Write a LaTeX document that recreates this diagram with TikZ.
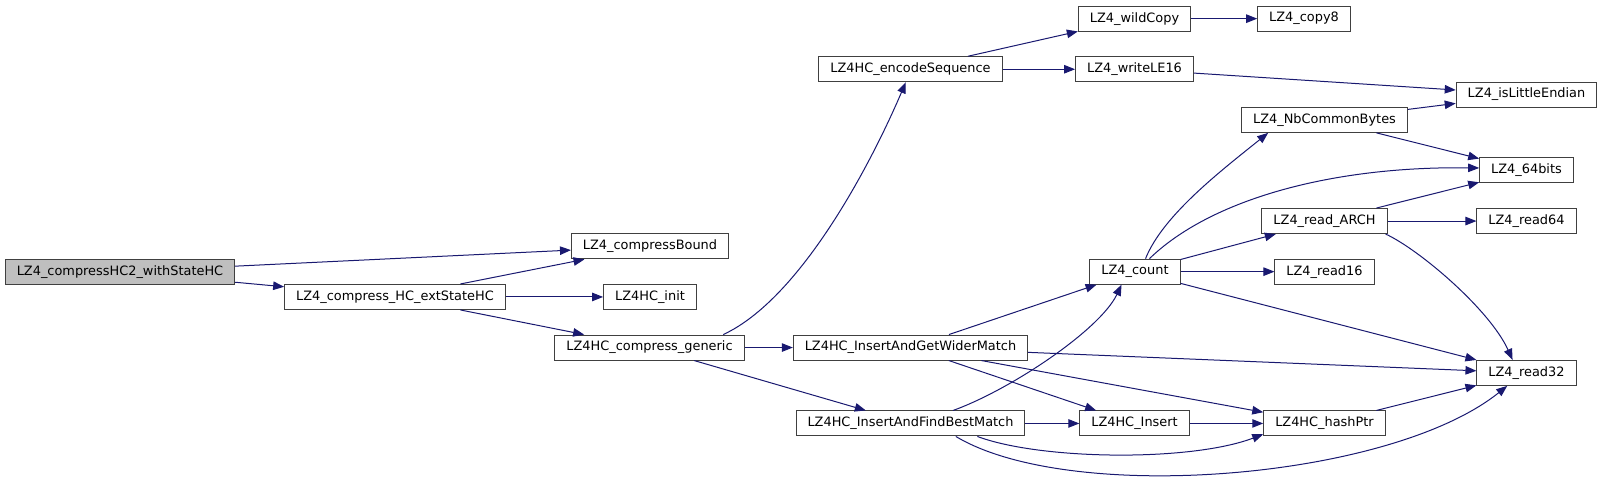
\documentclass[tikz,border=0pt]{standalone}
\usepackage{fontspec}
\setmainfont{DejaVu Sans}
\usetikzlibrary{arrows.meta}
\definecolor{edgeblue}{HTML}{191970}
\definecolor{boxgray}{HTML}{404040}
\begin{document}
\begin{tikzpicture}[x=1pt,y=-1pt,
	fn/.style={draw=boxgray,line width=1pt,fill=white,inner xsep=11.5pt,inner ysep=0pt,
		minimum height=25pt,font=\fontsize{12.9pt}{15pt}\selectfont},
	cur/.style={fn,fill=gray!50},
	call/.style={draw=edgeblue,line width=1pt,-{Triangle[length=11pt,width=8.5pt]}}]
		\useasboundingbox (0,0) rectangle (1603,479);
		% column 0 and 1
		\node[cur] (ws) at (120,271.65) {LZ4\_compressHC2\_withStateHC};
		\node[fn] (ext) at (395,296.95) {LZ4\_compress\_HC\_extStateHC};
		% column 2
		\node[fn] (cb) at (650,246.35) {LZ4\_compressBound};
		\node[fn] (init) at (650,296.95) {LZ4HC\_init};
		\node[fn] (gen) at (649.5,347.55) {LZ4HC\_compress\_generic};
		% column 3
		\node[fn] (enc) at (910.5,69.25) {LZ4HC\_encodeSequence};
		\node[fn] (wider) at (910.5,347.55) {LZ4HC\_InsertAndGetWiderMatch};
		\node[fn] (best) at (910.5,423.45) {LZ4HC\_InsertAndFindBestMatch};
		% column 4
		\node[fn] (wild) at (1134.5,18.65) {LZ4\_wildCopy};
		\node[fn] (wle) at (1134.5,69.25) {LZ4\_writeLE16};
		\node[fn] (count) at (1135,271.65) {LZ4\_count};
		\node[fn] (ins) at (1134.5,423.45) {LZ4HC\_Insert};
		% column 5
		\node[fn] (copy8) at (1304,18.65) {LZ4\_copy8};
		\node[fn] (nbc) at (1324.5,119.85) {LZ4\_NbCommonBytes};
		\node[fn] (rarch) at (1324.5,221.05) {LZ4\_read\_ARCH};
		\node[fn] (r16) at (1324.5,271.65) {LZ4\_read16};
		\node[fn] (hash) at (1324.5,423.45) {LZ4HC\_hashPtr};
		% column 6
		\node[fn] (isle) at (1526.5,94.55) {LZ4\_isLittleEndian};
		\node[fn] (b64) at (1526.5,170.45) {LZ4\_64bits};
		\node[fn] (r64) at (1526.5,221.05) {LZ4\_read64};
		\node[fn] (r32) at (1526.5,372.85) {LZ4\_read32};
		% calls
		\draw[call] (ws) -- (cb);
		\draw[call] (ws) -- (ext);
		\draw[call] (ext) -- (cb);
		\draw[call] (ext) -- (init);
		\draw[call] (ext) -- (gen);
		\draw[call] (gen.10) .. controls (800,299) and (870,166) .. (enc.250);
		\draw[call] (gen) -- (wider);
		\draw[call] (gen) -- (best);
		\draw[call] (enc) -- (wild);
		\draw[call] (enc) -- (wle);
		\draw[call] (wild) -- (copy8);
		\draw[call] (wle) -- (isle);
		\draw[call] (nbc) -- (isle);
		\draw[call] (nbc) -- (b64);
		\draw[call] (count.51) .. controls (1163,215) and (1222,170) .. (nbc.193);
		\draw[call] (count.42) .. controls (1210,200) and (1330,166) .. (b64.177);
		\draw[call] (count) -- (rarch);
		\draw[call] (count) -- (r16);
		\draw[call] (count) -- (r32);
		\draw[call] (rarch) -- (b64);
		\draw[call] (rarch) -- (r64);
		\draw[call] (rarch.348) .. controls (1420,250) and (1490,310) .. (r32.137);
		\draw[call] (wider) -- (count);
		\draw[call] (wider) -- (r32);
		\draw[call] (wider) -- (ins);
		\draw[call] (wider) -- (hash);
		\draw[call] (best.17) .. controls (1010,390) and (1100,330) .. (count.224);
		\draw[call] (best) -- (ins);
		\draw[call] (best.349) .. controls (1040,460) and (1190,462) .. (hash.190);
		\draw[call] (best.344) .. controls (1070,505) and (1390,480) .. (r32.214);
		\draw[call] (ins) -- (hash);
		\draw[call] (hash) -- (r32);
	\end{tikzpicture}
\end{document}
